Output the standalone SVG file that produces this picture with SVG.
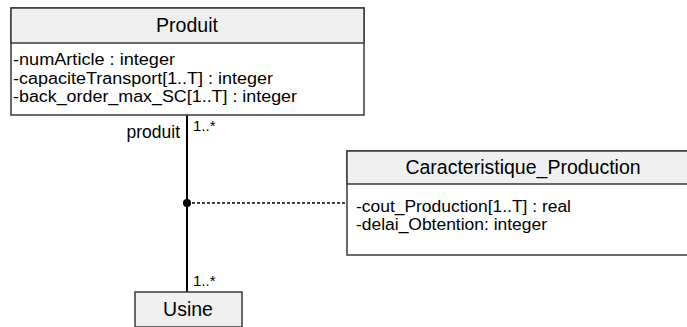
<svg xmlns="http://www.w3.org/2000/svg" width="687" height="327" viewBox="0 0 687 327">
<style>
.box{fill:#ffffff;stroke:#3a3a3a;stroke-width:1.5}
.hdr{fill:#f0f0f0;stroke:#3a3a3a;stroke-width:1.5}
.t{font-family:"Liberation Sans",Arial,sans-serif;fill:#000}
.h{font-size:19.5px;text-anchor:middle}
.a{font-size:16px}
.m{font-size:15px}
.r{font-size:17.5px;text-anchor:end}
</style>
<rect width="687" height="327" fill="#ffffff"/>
<g id="connectors">
<line x1="187" y1="115" x2="187" y2="292" stroke="#000" stroke-width="2"/>
<line x1="187" y1="203" x2="347" y2="203" stroke="#000" stroke-width="1.5" stroke-dasharray="3,2"/>
<circle cx="187" cy="203" r="4" fill="#000"/>
<text class="t r" x="180" y="138">produit</text>
<text class="t m" x="193" y="131">1..*</text>
<text class="t m" x="193" y="286">1..*</text>
</g>
<g id="produit">
<rect class="box" x="11" y="8" width="353" height="107"/>
<rect class="hdr" x="11" y="8" width="353" height="35"/>
<text class="t h" x="187" y="32">Produit</text>
<text class="t a" x="13" y="65" textLength="162" lengthAdjust="spacingAndGlyphs">-numArticle : integer</text>
<text class="t a" x="13" y="84" textLength="260" lengthAdjust="spacingAndGlyphs">-capaciteTransport[1..T] : integer</text>
<text class="t a" x="13" y="102" textLength="284" lengthAdjust="spacingAndGlyphs">-back_order_max_SC[1..T] : integer</text>
</g>
<g id="caracteristique_production">
<rect class="box" x="347" y="151" width="352" height="104"/>
<rect class="hdr" x="347" y="151" width="352" height="33"/>
<text class="t h" x="523" y="174">Caracteristique_Production</text>
<text class="t a" x="356" y="212" textLength="215" lengthAdjust="spacingAndGlyphs">-cout_Production[1..T] : real</text>
<text class="t a" x="356" y="230" textLength="191" lengthAdjust="spacingAndGlyphs">-delai_Obtention: integer</text>
</g>
<g id="usine">
<rect class="hdr" x="135" y="292" width="107" height="35"/>
<text class="t h" x="188" y="316">Usine</text>
</g>
</svg>
